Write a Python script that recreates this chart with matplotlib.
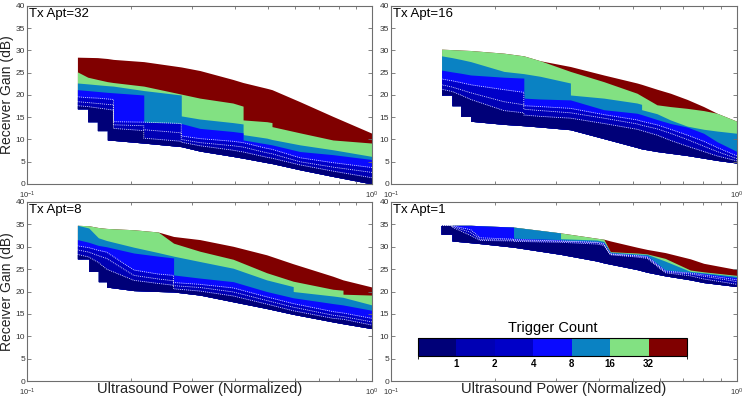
import matplotlib
matplotlib.use("Agg")
import matplotlib.pyplot as plt
import numpy as np
from matplotlib.colors import ListedColormap, BoundaryNorm
from matplotlib.colorbar import ColorbarBase

plt.rcParams['font.family'] = ['Liberation Sans', 'DejaVu Sans']
plt.rcParams['mathtext.fontset'] = 'custom'
plt.rcParams['mathtext.rm'] = 'Liberation Sans'
plt.rcParams['mathtext.it'] = 'Liberation Sans'

# trigger-count bands, low to high
COUNT_LABELS = ["1", "2", "4", "8", "16", "32"]
BAND_COLORS = ["#000078", "#0000B4", "#0000C8", "#0A0AFF", "#0A82C3", "#82E182", "#800000"]

# ---- Tx Apt=32 : boundaries of each band vs. normalized power ----
X32 = [0.140, 0.150, 0.150, 0.160, 0.160, 0.171, 0.171, 0.178, 0.178, 0.218, 0.218, 0.280, 0.280,
       0.317, 0.395, 0.423, 0.423, 0.496, 0.513, 0.513, 0.618, 0.770, 1.000]
BOT32 = [16.9, 16.9, 14.0, 14.0, 12.0, 12.0, 9.9, 9.8, 9.8, 9.2, 9.2, 8.4, 8.4,
         7.4, 6.2, 5.8, 5.8, 4.8, 4.6, 4.6, 3.2, 1.7, 0.0]
L1_32 = [17.6, 17.4, 17.4, 17.1, 17.1, 16.8, 16.8, 16.6, 12.5, 12.0, 10.3, 9.6, 9.4,
         8.6, 7.6, 7.2, 7.2, 6.0, 5.8, 5.8, 4.3, 2.9, 1.4]
L2_32 = [18.5, 18.3, 18.3, 18.1, 18.1, 17.9, 17.9, 17.8, 13.3, 13.1, 12.2, 11.5, 10.0,
         9.3, 8.6, 8.3, 8.3, 7.0, 6.8, 6.8, 5.0, 3.8, 2.6]
L4_32 = [19.6, 19.4, 19.4, 19.3, 19.3, 19.1, 19.1, 19.0, 14.0, 13.9, 13.9, 13.6, 10.8,
         10.2, 9.6, 9.3, 9.3, 8.0, 7.8, 7.8, 5.9, 4.8, 3.7]
L8_32 = [21.2, 21.0, 21.0, 20.8, 20.8, 20.6, 20.6, 20.5, 20.5, 20.0, 13.9, 13.6, 13.6,
         12.5, 11.8, 11.5, 9.9, 9.0, 8.8, 8.8, 7.3, 6.6, 5.5]
L16_32 = [22.7, 22.5, 22.5, 22.3, 22.3, 22.1, 22.1, 22.0, 22.0, 21.0, 21.0, 20.0, 15.3,
          14.6, 13.8, 13.5, 11.1, 10.3, 10.0, 10.0, 8.8, 7.7, 6.2]
L32_32 = [25.2, 24.0, 24.0, 23.5, 23.5, 23.0, 23.0, 22.8, 22.8, 22.0, 22.0, 20.2, 20.2,
          19.3, 18.2, 17.5, 14.4, 14.0, 13.8, 12.9, 11.5, 9.9, 9.2]
TOP32 = [28.5, 28.45, 28.45, 28.4, 28.4, 28.2, 28.2, 28.0, 28.0, 27.5, 27.5, 26.3, 26.3,
         25.5, 23.5, 22.8, 22.8, 21.5, 21.2, 21.2, 18.5, 15.2, 11.4]

# ---- Tx Apt=16 ----
X16 = [0.140, 0.150, 0.150, 0.159, 0.159, 0.170, 0.170, 0.212, 0.242, 0.242, 0.270, 0.330, 0.330,
       0.412, 0.514, 0.530, 0.530, 0.587, 0.642, 0.718, 0.801, 0.876, 1.000]
BOT16 = [20.0, 20.0, 17.6, 17.6, 15.2, 15.2, 14.1, 13.4, 13.1, 13.1, 12.8, 12.2, 12.2,
         10.2, 8.2, 7.9, 7.9, 7.3, 6.9, 6.4, 5.8, 5.3, 4.7]
L1_16 = [21.3, 20.8, 20.8, 20.0, 20.0, 19.0, 19.0, 16.5, 16.0, 15.5, 15.2, 14.8, 14.8,
         13.6, 12.3, 12.0, 12.0, 11.0, 9.8, 8.5, 7.3, 6.3, 5.2]
L2_16 = [22.3, 21.8, 21.8, 21.2, 21.2, 20.5, 20.5, 18.5, 17.8, 16.8, 16.5, 16.0, 16.0,
         14.8, 13.5, 13.2, 13.2, 12.4, 11.4, 10.0, 8.5, 7.3, 5.7]
L4_16 = [23.6, 23.2, 23.2, 22.8, 22.8, 22.3, 22.3, 21.2, 20.6, 17.6, 17.4, 17.0, 17.0,
         15.6, 14.4, 14.1, 14.1, 13.3, 12.3, 11.0, 9.6, 8.2, 6.3]
L8_16 = [25.6, 25.2, 25.2, 24.9, 24.9, 24.5, 24.5, 24.0, 23.8, 19.3, 19.1, 18.9, 18.9,
         16.7, 15.9, 15.6, 15.6, 14.5, 13.6, 12.8, 11.4, 9.5, 7.3]
L16_16 = [28.8, 28.4, 28.4, 28.0, 28.0, 27.5, 27.5, 25.3, 24.8, 24.8, 24.2, 22.7, 20.0,
          19.3, 18.2, 17.9, 16.7, 15.8, 14.4, 13.0, 12.3, 11.9, 11.4]
L32_16 = [30.3, 30.2, 30.2, 30.1, 30.1, 30.0, 30.0, 29.4, 28.8, 28.8, 27.7, 25.3, 25.3,
          23.0, 20.4, 19.8, 19.8, 17.8, 17.4, 17.0, 16.5, 15.9, 14.1]
TOP16 = [30.3, 30.2, 30.2, 30.1, 30.1, 30.0, 30.0, 29.4, 28.8, 28.8, 27.7, 26.4, 26.4,
         24.5, 22.7, 22.4, 22.4, 21.3, 20.4, 19.0, 17.4, 15.9, 14.1]

# ---- Tx Apt=8 ----
X8 = [0.140, 0.151, 0.151, 0.161, 0.161, 0.170, 0.170, 0.204, 0.240, 0.266, 0.266, 0.317,
      0.396, 0.495, 0.591, 0.591, 0.771, 0.824, 0.824, 1.000]
BOT8 = [27.3, 27.3, 24.5, 24.5, 22.2, 22.2, 21.0, 20.2, 20.0, 19.9, 19.9, 19.2,
        17.7, 16.2, 14.9, 14.9, 13.2, 12.8, 12.8, 11.7]
L1_8 = [28.3, 27.7, 27.7, 26.5, 26.5, 25.0, 25.0, 22.5, 21.8, 21.4, 20.6, 20.1,
        19.0, 17.2, 15.7, 15.7, 14.0, 13.8, 13.8, 12.5]
L2_8 = [29.3, 28.8, 28.8, 28.0, 28.0, 27.4, 27.4, 23.6, 22.8, 22.4, 21.3, 20.9,
        19.9, 18.0, 16.5, 16.5, 14.7, 14.4, 14.4, 13.2]
L4_8 = [30.2, 29.8, 29.8, 29.2, 29.2, 28.8, 28.8, 24.8, 23.9, 23.6, 22.0, 21.6,
        20.8, 18.8, 17.3, 17.3, 15.5, 15.2, 15.2, 14.0]
L8_8 = [31.6, 31.0, 31.0, 30.3, 30.3, 30.0, 30.0, 28.6, 27.9, 27.5, 23.7, 23.0,
        22.2, 20.0, 18.6, 18.6, 17.3, 17.0, 17.0, 15.8]
L16_8 = [34.8, 34.2, 34.2, 32.0, 32.0, 31.4, 31.4, 29.9, 28.7, 27.9, 27.9, 26.7,
         25.2, 22.6, 21.1, 20.0, 19.0, 18.7, 18.7, 17.0]
L32_8 = [34.8, 34.7, 34.7, 34.3, 34.3, 34.1, 34.1, 33.8, 33.3, 30.8, 30.8, 29.0,
         27.2, 24.2, 22.3, 22.3, 20.5, 20.3, 19.4, 19.2]
TOP8 = [34.8, 34.7, 34.7, 34.3, 34.3, 34.1, 34.1, 33.8, 33.3, 32.3, 32.3, 31.6,
        30.1, 28.2, 26.2, 26.2, 23.4, 22.6, 22.6, 21.0]

# ---- Tx Apt=1 ----
X1 = [0.1395, 0.150, 0.150, 0.170, 0.181, 0.226, 0.226, 0.309, 0.309, 0.394, 0.412, 0.4305,
      0.514, 0.550, 0.620, 0.733, 0.801, 1.000]
BOT1 = [32.8, 32.8, 31.3, 30.9, 30.7, 29.9, 29.9, 28.3, 28.3, 26.8, 26.4, 26.1,
        24.9, 24.3, 23.5, 22.6, 22.0, 21.1]
L1_1 = [34.8, 34.8, 34.4, 32.5, 31.4, 31.3, 31.2, 31.0, 31.0, 30.6, 30.3, 28.2,
        27.7, 27.4, 24.2, 23.5, 22.8, 21.6]
L2_1 = [34.8, 34.8, 34.6, 33.2, 31.6, 31.5, 31.4, 31.2, 31.2, 30.9, 30.5, 28.3,
        27.9, 27.6, 24.4, 23.9, 23.4, 22.2]
L4_1 = [34.8, 34.8, 34.7, 33.8, 32.0, 31.7, 31.6, 31.3, 31.3, 31.0, 30.7, 28.4,
        28.0, 27.8, 24.6, 24.1, 23.7, 22.6]
L8_1 = [34.8, 34.8, 34.8, 34.8, 34.7, 34.4, 31.9, 31.6, 31.5, 31.2, 30.9, 28.6,
        28.2, 28.0, 24.8, 24.3, 24.0, 23.1]
L16_1 = [34.8, 34.8, 34.8, 34.8, 34.7, 34.4, 34.4, 33.1, 31.8, 31.5, 31.2, 28.8,
         28.4, 28.3, 26.8, 24.5, 24.2, 23.4]
L32_1 = [34.8, 34.8, 34.8, 34.8, 34.7, 34.4, 34.4, 33.1, 33.1, 31.9, 31.7, 28.9,
         28.6, 28.4, 27.4, 24.8, 24.4, 23.6]
TOP1 = [34.8, 34.8, 34.8, 34.8, 34.7, 34.4, 34.4, 33.1, 33.1, 31.9, 31.7, 31.3,
        29.9, 29.4, 28.7, 27.3, 26.3, 24.9]

PANELS = [
    ("Tx Apt=32", X32, BOT32, [L1_32, L2_32, L4_32, L8_32, L16_32, L32_32, TOP32]),
    ("Tx Apt=16", X16, BOT16, [L1_16, L2_16, L4_16, L8_16, L16_16, L32_16, TOP16]),
    ("Tx Apt=8", X8, BOT8, [L1_8, L2_8, L4_8, L8_8, L16_8, L32_8, TOP8]),
    ("Tx Apt=1", X1, BOT1, [L1_1, L2_1, L4_1, L8_1, L16_1, L32_1, TOP1]),
]

W, H = 745.0, 400.0
# axes boxes in pixels: left, top, right, bottom
BOXES = [(27, 6, 372, 184), (391, 6, 737, 184), (27, 202, 372, 381), (391, 202, 737, 381)]

fig = plt.figure(figsize=(7.45, 4.0), dpi=100)

frame_col = "#6e6e6e"
for i, (title, x, bot, levels) in enumerate(PANELS):
    l, t, r, b = BOXES[i]
    ax = fig.add_axes([l / W, 1 - b / H, (r - l) / W, (b - t) / H])

    # paint from the top band down so lower bands sit on top
    for k in range(len(levels) - 1, -1, -1):
        ax.fill_between(x, bot, levels[k], color=BAND_COLORS[k], lw=0)
    # white dotted contours in the low-count region
    for k in range(3):
        ax.plot(x, levels[k], color="white", lw=0.6, ls=(0, (1, 1.3)))

    ax.set_xscale("log")
    ax.set_xlim(0.1, 1.0)
    ax.set_ylim(0, 40)
    ax.set_yticks(np.arange(0, 41, 5))
    ax.set_xticks([0.1, 1.0])
    ax.set_xticklabels([r"$10^{-1}$", r"$10^{0}$"])
    ax.set_xticks(np.arange(0.2, 1.0, 0.1), minor=True)
    ax.set_xticklabels([], minor=True)
    ax.tick_params(which="both", direction="in", top=True, right=True,
                   labelsize=6, length=3, width=0.6, color=frame_col,
                   labelcolor="#333333", pad=1.5)
    ax.tick_params(axis="x", which="major", labelsize=5.5, pad=4)
    ax.tick_params(axis="x", which="minor", length=2.5)
    for s in ax.spines.values():
        s.set_color(frame_col)
        s.set_linewidth(0.8)

    ax.text(0.006, 0.99, title, transform=ax.transAxes, ha="left", va="top", fontsize=9.5)

    if i % 2 == 0:
        ax.set_ylabel("Receiver Gain (dB)", fontsize=10, color="#222222", labelpad=1)
    if i >= 2:
        ax.set_xlabel("Ultrasound Power (Normalized)", fontsize=10.5, color="#222222")
        ax.xaxis.set_label_coords(0.5, -0.004)

# colour bar sitting inside the last panel
cax = fig.add_axes([418 / W, 1 - 356 / H, 269 / W, 18 / H])
cmap = ListedColormap(BAND_COLORS)
norm = BoundaryNorm(np.arange(len(BAND_COLORS) + 1), len(BAND_COLORS))
cb = ColorbarBase(cax, cmap=cmap, norm=norm, orientation="horizontal",
                  ticks=np.arange(1, len(COUNT_LABELS) + 1))
cb.set_ticklabels(COUNT_LABELS)
cb.outline.set_linewidth(0.8)
cax.tick_params(length=0, labelsize=7, pad=2)
for lab in cax.get_xticklabels():
    lab.set_fontweight("bold")
cax.set_title("Trigger Count", fontsize=10.5, pad=4)

fig.savefig("out.png", dpi=100)
